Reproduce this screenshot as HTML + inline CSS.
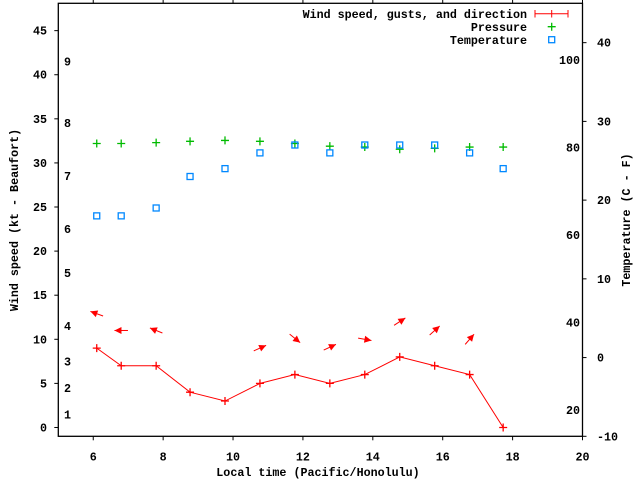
<!DOCTYPE html>
<html><head><meta charset="utf-8"><style>
html,body{margin:0;padding:0;background:#fff}
svg{display:block}
text{font-family:"Liberation Mono",monospace;font-weight:bold;font-size:11.7px;fill:#000}
</style></head><body>
<svg id="chart" width="640" height="480" viewBox="0 0 640 480" xmlns="http://www.w3.org/2000/svg">
<g id="axes"></g>
<g id="marks"></g>
<g id="legend">
  <text x="527" y="18" text-anchor="end">Wind speed, gusts, and direction</text>
  <line x1="535" y1="13.7" x2="568" y2="13.7" stroke="#f00"/>
  <line x1="535" y1="10" x2="535" y2="17.5" stroke="#f00"/>
  <line x1="568" y1="10" x2="568" y2="17.5" stroke="#f00"/>
  <line x1="551.7" y1="10" x2="551.7" y2="17.5" stroke="#f00"/>
  <text x="527" y="31" text-anchor="end">Pressure</text>
  <path d="M547.7 26.7h8M551.7 22.7v8" stroke="#0b0" stroke-width="1.3"/>
  <text x="527" y="44" text-anchor="end">Temperature</text>
  <rect x="548.7" y="36.7" width="6" height="6" fill="none" stroke="#08f" stroke-width="1.3"/>
</g>
<text x="318" y="476" text-anchor="middle">Local time (Pacific/Honolulu)</text>
<text transform="translate(18,220) rotate(-90)" text-anchor="middle">Wind speed (kt - Beaufort)</text>
<text transform="translate(630,220) rotate(-90)" text-anchor="middle">Temperature (C - F)</text>
</svg>
<script>
const times = [6.1, 6.8, 7.8, 8.77, 9.77, 10.77, 11.77, 12.77, 13.77, 14.77, 15.77, 16.77, 17.73];
const windKt = [9, 7, 7, 4, 3, 5, 6, 5, 6, 8, 7, 6, 0];
const pressure = [32.2, 32.2, 32.3, 32.45, 32.55, 32.45, 32.2, 31.9, 31.8, 31.55, 31.65, 31.8, 31.8];
const tempC = [18, 18, 19, 23, 24, 26, 27, 26, 27, 27, 27, 26, 24];
const arrowTimes = [6.1, 6.8, 7.8, 10.77, 11.77, 12.77, 13.77, 14.77, 15.77, 16.77];
const arrowLevel = [12.9, 11, 11, 9, 10.1, 9.1, 10, 12, 11, 10];
const arrowAngle = [160, 180, 158, 24, -39, 25, -10, 33, 42, 49];
const xTicks = [6, 8, 10, 12, 14, 16, 18, 20];
const yTicks = [0, 5, 10, 15, 20, 25, 30, 35, 40, 45];
const cTicks = [-10, 0, 10, 20, 30, 40];
const fLabels = [20, 40, 60, 80, 100];
const beaufortLabels = ["1","2","3","4","5","6","7","8","9"];
const beaufortKt = [1.5, 4.5, 7.5, 11.5, 17.5, 22.5, 28.5, 34.5, 41.5];

const L=58.3, R=582.5, T=3.3, B=436.3;
const X = t => L + (t-5)/(20-5)*(R-L);
const Y = v => B - (v+1)/(48.1+1)*(B-T);
const YC = c => B - (c+10)/(45+10)*(B-T);
const NS="http://www.w3.org/2000/svg";
function mk(tag, attrs, parent){const e=document.createElementNS(NS,tag);for(const k in attrs)e.setAttribute(k,attrs[k]);parent.appendChild(e);return e;}
const axes=document.getElementById('axes'), marks=document.getElementById('marks');

const frame=mk('rect',{x:L,y:T,width:R-L,height:B-T,fill:'none',stroke:'#000','stroke-width':1.3},axes);


xTicks.forEach(t=>{
  const x=X(t);
  mk('line',{x1:x,y1:B,x2:x,y2:B+4,stroke:'#000'},axes);
  mk('line',{x1:x,y1:T,x2:x,y2:T-4,stroke:'#000'},axes);
  const tx=mk('text',{x:x,y:B+24,'text-anchor':'middle'},axes);
  tx.textContent=t;
  
  
});
yTicks.forEach(v=>{
  const y=Y(v);
  mk('line',{x1:L-4,y1:y,x2:L,y2:y,stroke:'#000'},axes);
  const tx=mk('text',{x:47,y:y+4,'text-anchor':'end'},axes);
  tx.textContent=v;
  
  
});
cTicks.forEach(c=>{
  const y=YC(c);
  mk('line',{x1:R,y1:y,x2:R+4,y2:y,stroke:'#000'},axes);
  const tx=mk('text',{x:597,y:y+4,'text-anchor':'start'},axes);
  tx.textContent=c;
  
  
});
fLabels.forEach(f=>{
  const y=YC((f-32)*5/9);
  const tx=mk('text',{x:580,y:y+4,'text-anchor':'end'},axes);
  tx.textContent=f;
  
  
});
beaufortLabels.forEach((b,i)=>{
  const tx=mk('text',{x:64,y:Y(beaufortKt[i])+4},axes);
  tx.textContent=b;
  
  
});

// wind line
const wl=mk('polyline',{points:times.map((t,i)=>X(t)+','+Y(windKt[i])).join(' '),fill:'none',stroke:'#f00','stroke-width':1},marks);


times.forEach((t,i)=>{
  const x=X(t), y=Y(windKt[i]);
  const p=mk('path',{d:`M${x-4} ${y}h8M${x} ${y-4}v8`,stroke:'#f00','stroke-width':1.3},marks);
  
  
});
times.forEach((t,i)=>{
  const x=X(t), y=Y(pressure[i]);
  const p=mk('path',{d:`M${x-4} ${y}h8M${x} ${y-4}v8`,stroke:'#0b0','stroke-width':1.3},marks);
  
  
});
times.forEach((t,i)=>{
  const x=X(t), y=YC(tempC[i]);
  const r=mk('rect',{x:x-3,y:y-3,width:6,height:6,fill:'none',stroke:'#08f','stroke-width':1.3},marks);
  
  
});
arrowTimes.forEach((t,i)=>{
  const cx=X(t), cy=Y(arrowLevel[i]);
  const a=arrowAngle[i]*Math.PI/180, len=13.5;
  const dx=Math.cos(a)*len/2, dy=-Math.sin(a)*len/2;
  const hx=cx+dx, hy=cy+dy, tx=cx-dx, ty=cy-dy;
  const g=mk('g',{},marks);
  
  
  mk('line',{x1:tx,y1:ty,x2:hx,y2:hy,stroke:'#f00','stroke-width':1},g);
  const ux=Math.cos(a), uy=-Math.sin(a), px=-uy, py=ux;
  const bx=hx-ux*7, by=hy-uy*7;
  mk('polygon',{points:`${hx},${hy} ${bx+px*3.5},${by+py*3.5} ${bx-px*3.5},${by-py*3.5}`,fill:'#f00'},g);
});
</script>
</body></html>
